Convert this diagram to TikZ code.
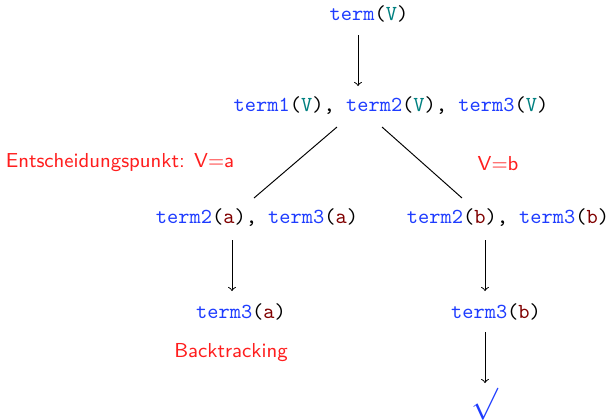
\documentclass[tikz,border=0pt]{standalone}
\usepackage{xcolor}
\definecolor{termblue}{RGB}{30,60,255}
\definecolor{varteal}{RGB}{0,128,128}
\definecolor{valred}{RGB}{128,0,0}
\definecolor{labred}{RGB}{255,30,30}
\begin{document}
\begin{tikzpicture}[x=0.4673pt,y=-0.4673pt,
  tt/.style={inner sep=0pt,font=\ttfamily},
  lab/.style={inner sep=0pt,font=\fontsize{9.45}{11}\selectfont\sffamily,text=labred},
  arr/.style={->,black,line width=0.45pt},
  ln/.style={black,line width=0.45pt}]
\useasboundingbox (0,0) rectangle (609,419);
\newcommand{\tm}[1]{\textcolor{termblue}{#1}}
\newcommand{\vv}{\textcolor{varteal}{V}}
\newcommand{\va}[1]{\textcolor{valred}{#1}}
\node[tt] (t0) at (369,14) {\tm{term}(\vv)};
\node[tt] (t1) at (391,106) {\tm{term1}(\vv), \tm{term2}(\vv), \tm{term3}(\vv)};
\node[tt] (ta) at (257,218) {\tm{term2}(\va{a}), \tm{term3}(\va{a})};
\node[tt] (tb) at (508,218) {\tm{term2}(\va{b}), \tm{term3}(\va{b})};
\node[tt] (ta3) at (241,312) {\tm{term3}(\va{a})};
\node[tt] (tb3) at (496,312) {\tm{term3}(\va{b})};
\node[lab] (ent) at (120,163) {Entscheidungspunkt: V=a};
\node[lab] (vb) at (498,164) {V=b};
\node[lab] (bt) at (231,353) {Backtracking};
\node[inner sep=0pt,text=termblue,scale=1.5] (ok) at (485,404) {$\surd$};
\coordinate (a0s) at (358,35); \coordinate (a0e) at (358,86);
\coordinate (l1s) at (337,127); \coordinate (l1e) at (254,198);
\coordinate (l2s) at (382,127); \coordinate (l2e) at (462,198);
\coordinate (a1s) at (232,240); \coordinate (a1e) at (232,291);
\coordinate (a2s) at (485,240); \coordinate (a2e) at (485,291);
\coordinate (a3s) at (485,332); \coordinate (a3e) at (485,383);
\draw[arr] (a0s) -- (a0e);
\draw[ln] (l1s) -- (l1e);
\draw[ln] (l2s) -- (l2e);
\draw[arr] (a1s) -- (a1e);
\draw[arr] (a2s) -- (a2e);
\draw[arr] (a3s) -- (a3e);
\end{tikzpicture}
\end{document}
